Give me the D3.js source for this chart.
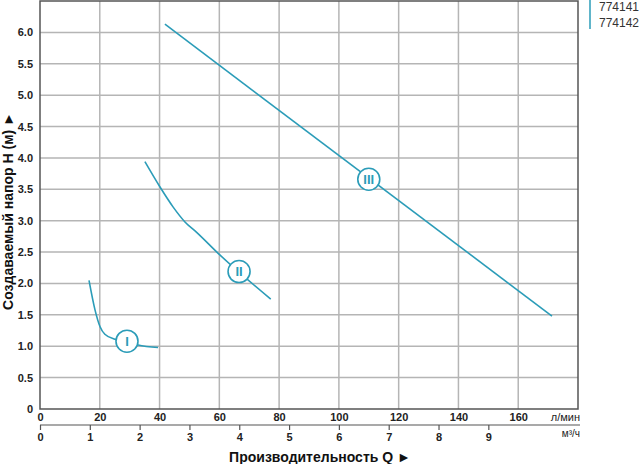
<!DOCTYPE html>
<html>
<head>
<meta charset="utf-8">
<script src="https://cdn.jsdelivr.net/npm/d3@7"></script>
<style>
  body { margin: 0; background: #fff; }
  svg { display: block; font-family: "Liberation Sans", Arial, sans-serif; }
  .grid line { stroke: #b5b5b5; stroke-width: 1.5; }
  .ticklbl text { font-size: 11px; font-weight: bold; fill: #222; }
</style>
</head>
<body>
<script>
// pump curves, x in l/min, y in m
var curveI   = [{x:16.4,y:2.05},{x:18.4,y:1.58},{x:20.1,y:1.31},{x:21.7,y:1.19},{x:25.1,y:1.11},{x:29.1,y:1.07},{x:32.8,y:1.02},{x:39.5,y:0.98}];
var curveII  = [{x:35.1,y:3.94},{x:40.1,y:3.54},{x:44.5,y:3.22},{x:48.5,y:2.98},{x:52.5,y:2.81},{x:59.6,y:2.48},{x:77.2,y:1.75}];
var curveIII = [{x:41.8,y:6.13},{x:171.3,y:1.48}];
var badges = [{x:29.1,y:1.08,t:"I"},{x:66.6,y:2.19,t:"II"},{x:110,y:3.66,t:"III"}];

var lpmTicks = [0,20,40,60,80,100,120,140,160];
var m3hTicks = [0,1,2,3,4,5,6,7,8,9];
var hTicks   = [0,0.5,1,1.5,2,2.5,3,3.5,4,4.5,5,5.5,6];
var models   = ["774141","774142"];

var W = 640, H = 464;
var teal = "#2b9cb8";

var x = d3.scaleLinear().domain([0,180]).range([40,578]);
var xm = d3.scaleLinear().domain([0,10.8]).range([40,578]);
var y = d3.scaleLinear().domain([0,6.5]).range([409,1]);

var svg = d3.select("body").append("svg")
    .attr("width", W)
    .attr("height", H);

// grid
var grid = svg.append("g").attr("class","grid");
grid.selectAll(".vx").data(lpmTicks.filter(function(d){ return d > 0; }))
  .enter().append("line")
    .attr("x1", function(d){ return x(d); }).attr("x2", function(d){ return x(d); })
    .attr("y1", y(6.5)).attr("y2", y(0));
grid.selectAll(".hy").data(hTicks.filter(function(d){ return d > 0; }))
  .enter().append("line")
    .attr("x1", x(0)).attr("x2", x(180))
    .attr("y1", function(d){ return y(d); }).attr("y2", function(d){ return y(d); });

// frame
svg.append("rect")
    .attr("x", x(0)).attr("y", y(6.5))
    .attr("width", x(180) - x(0)).attr("height", y(0) - y(6.5))
    .attr("fill","none").attr("stroke","#555").attr("stroke-width",1.5);

// axes
var ax = svg.append("g").attr("class","ticklbl")
    .attr("transform","translate(0," + y(0) + ")")
    .call(d3.axisBottom(x).tickValues(lpmTicks).tickSize(0).tickPadding(4));
ax.select(".domain").remove();

var axm = svg.append("g").attr("class","ticklbl")
    .attr("transform","translate(0,425)")
    .call(d3.axisBottom(xm).tickValues(m3hTicks).tickSize(5).tickPadding(3));
axm.select(".domain").remove();
axm.selectAll(".tick line").attr("stroke","#555").attr("stroke-width",1.2);
svg.append("line").attr("x1", x(0)).attr("x2", 580).attr("y1",425).attr("y2",425)
    .attr("stroke","#555").attr("stroke-width",1.2);

var ay = svg.append("g").attr("class","ticklbl")
    .attr("transform","translate(" + x(0) + ",0)")
    .call(d3.axisLeft(y).tickValues(hTicks).tickSize(0).tickPadding(7)
      .tickFormat(function(d){ return d === 0 ? "0" : d.toFixed(1); }));
ay.select(".domain").remove();

// units
svg.append("text").attr("x",580).attr("y",421).attr("text-anchor","end")
    .attr("font-size",11).attr("fill","#222").text("л/мин");
svg.append("text").attr("x",580).attr("y",437).attr("text-anchor","end")
    .attr("font-size",10).attr("fill","#222").text("м³/ч");

// titles
svg.append("text").attr("x",320).attr("y",462).attr("text-anchor","middle")
    .attr("font-size",14).attr("font-weight","bold").attr("fill","#111")
    .text("Производительность Q ►");
svg.append("text").attr("transform","translate(13,211) rotate(-90)")
    .attr("text-anchor","middle")
    .attr("font-size",14).attr("font-weight","bold").attr("fill","#111")
    .text("Создаваемый напор H (м) ►");

// curves
var line = d3.line()
  .x(function(d){ return x(d.x); })
  .y(function(d){ return y(d.y); })
  .curve(d3.curveMonotoneX);

svg.selectAll(".curve").data([curveI, curveII, curveIII])
  .enter().append("path")
    .attr("class","curve")
    .attr("d", line)
    .attr("fill","none")
    .attr("stroke", teal)
    .attr("stroke-width", 1.6);

var b = svg.selectAll(".badge").data(badges).enter().append("g")
    .attr("transform", function(d){ return "translate(" + x(d.x) + "," + y(d.y) + ")"; });
b.append("circle").attr("r",11).attr("fill","#fff").attr("stroke",teal).attr("stroke-width",1.6);
b.append("text").attr("text-anchor","middle").attr("dy","0.36em")
    .attr("font-size",13).attr("font-weight","bold").attr("fill",teal)
    .text(function(d){ return d.t; });

// legend
svg.append("line").attr("x1",590).attr("x2",590).attr("y1",0).attr("y2",29)
    .attr("stroke",teal).attr("stroke-width",1.5);
svg.selectAll(".model").data(models).enter().append("text")
    .attr("x",599).attr("y",function(d,i){ return 11 + i*16; })
    .attr("font-size",12).attr("fill","#333")
    .text(function(d){ return d; });
</script>
</body>
</html>
